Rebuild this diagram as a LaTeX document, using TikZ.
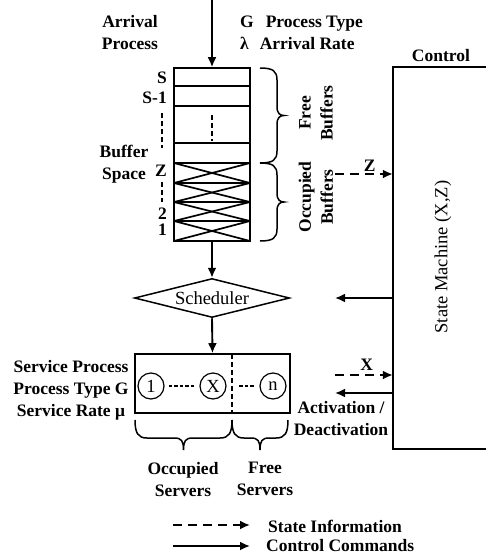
\documentclass[tikz,border=0pt]{standalone}
\usepackage{fontspec}
\setmainfont{Liberation Serif}
\usetikzlibrary{arrows.meta,shapes.geometric}
\newcommand\VBrace[3]{% x0, ytop, ybottom ; tip to the right
  \pgfmathsetmacro\ym{(#2+#3)/2}
  \draw[brc] (#1,#2) .. controls (#1+13,#2) and (#1+17,#2+3) .. (#1+17,#2+12)
    -- (#1+17,\ym-9) .. controls (#1+17,\ym-2) and (#1+20,\ym) .. (#1+24,\ym)
    .. controls (#1+20,\ym) and (#1+17,\ym+2) .. (#1+17,\ym+9)
    -- (#1+17,#3-12) .. controls (#1+17,#3-3) and (#1+13,#3) .. (#1,#3);}
\newcommand\HBrace[3]{% xleft, xright, y0 ; tip downwards
  \pgfmathsetmacro\xm{(#1+#2)/2}
  \draw[brc] (#1,#3) .. controls (#1,#3+13) and (#1+3,#3+18) .. (#1+12,#3+18)
    -- (\xm-9,#3+18) .. controls (\xm-2,#3+18) and (\xm,#3+21) .. (\xm,#3+30)
    .. controls (\xm,#3+21) and (\xm+2,#3+18) .. (\xm+9,#3+18)
    -- (#2-12,#3+18) .. controls (#2-3,#3+18) and (#2,#3+13) .. (#2,#3);}
\begin{document}
\begin{tikzpicture}[x=1pt,y=-1pt,
  lbl/.style={font=\fontsize{17.5}{22}\selectfont\bfseries, inner sep=0},
  reg/.style={font=\fontsize{18.5}{22}\selectfont, inner sep=0},
  box/.style={draw, line width=1.6pt},
  brc/.style={line width=1.5pt},
  arr/.style={line width=1.9pt,-{Latex[length=10pt,width=9pt]}},
  darr/.style={arr, dash pattern=on 9pt off 6pt},
  vdash/.style={line width=1.5pt, dash pattern=on 5pt off 3pt},
  dots/.style={line width=1.2pt, dash pattern=on 3.5pt off 2pt},
  srvc/.style={draw, circle, minimum size=26pt, inner sep=0, line width=1.2pt,
    font=\fontsize{18.5}{20}\selectfont},
]
\useasboundingbox (0,0) rectangle (486,554);

% ---------- buffer ----------
\node[box, minimum width=76pt, minimum height=173pt, inner sep=0] (buf) at (212,154.5) {};
\foreach \yy in {86,106,143,163,183,202,221}
  \draw[line width=1.6pt] (174,\yy) -- (250,\yy);
\foreach \a/\b in {163/183,183/202,202/221,221/241}{
  \draw[line width=1.7pt] (174,\a) -- (250,\b);
  \draw[line width=1.7pt] (174,\b) -- (250,\a);}
\draw[vdash] (212,115) -- (212,141);

\coordinate (arrtop) at (212,0);
\draw[arr] (arrtop) -- (buf.north);

\node[lbl, align=center, anchor=north] (arrp) at (130,15.5) {Arrival\\Process};
\node[lbl, align=left, anchor=north west] (gtype) at (240,15.5)
  {G\hspace{12pt}Process Type\\λ\hspace{11pt}Arrival Rate};

\node[lbl, anchor=base east] (ls) at (167,83) {S};
\node[lbl, anchor=base east] (ls1) at (167,103) {S-1};
\draw[vdash] (162,113) -- (162,148);
\node[lbl, align=center, anchor=north] (bsp) at (124,145) {Buffer\\Space};
\node[lbl, anchor=base east] (lz) at (167,176) {Z};
\draw[vdash] (162,182) -- (162,202);
\node[lbl, anchor=base east] (l2) at (167,219) {2};
\node[lbl, anchor=base east] (l1) at (167,235) {1};

\VBrace{260}{68}{163}
\VBrace{260}{163}{241}
\node[lbl, align=center, rotate=90] (fb) at (316,113) {Free\\Buffers};
\node[lbl, align=center, rotate=90] (ob) at (316,197) {Occupied\\Buffers};

% ---------- control ----------
\node[minimum width=93pt, minimum height=382pt, inner sep=0] (ctrl) at (439.5,258) {};
\draw[line width=1.6pt] (ctrl.north east) -- (ctrl.north west) -- (ctrl.south west) -- (ctrl.south east);
\node[lbl, anchor=base] (ctl) at (441,61) {Control};
\node[reg, rotate=90] (sm) at (443,257) {State Machine (X,Z)};

\coordinate (zs) at (335,174);
\draw[darr] (zs) -- (zs -| ctrl.west) node[lbl, pos=0.6, anchor=base, yshift=3pt] (zl) {Z};

% ---------- scheduler ----------
\node[draw, diamond, aspect=4, minimum width=155pt, minimum height=39pt, line width=1.5pt, reg] (sched) at (212,298) {Scheduler};
\draw[arr] (buf.south) -- (sched.north);
\coordinate (sc) at (335,298);
\draw[arr] (sc -| ctrl.west) -- (sc);

% ---------- servers ----------
\node[box, minimum width=155pt, minimum height=59pt, inner sep=0] (srv) at (212.5,383.5) {};
\draw[arr] (sched.south) -- (srv.north);
\draw[vdash] (232,354) -- (232,413);
\node[srvc] (c1) at (151,386) {1};
\node[srvc] (cx) at (213,386) {X};
\node[srvc] (cn) at (273,386) {n};
\coordinate (dv) at (232,386);
\draw[dots, shorten <=4pt, shorten >=5pt] (c1) -- (cx);
\draw[dots, shorten <=7pt, shorten >=5pt] (dv) -- (cn);

\node[lbl, align=center, anchor=north] (sp) at (71,360)
  {Service Process\\Process Type G\\Service Rate μ};

\coordinate (xs) at (335,375);
\draw[darr] (xs) -- (xs -| ctrl.west) node[lbl, pos=0.55, anchor=base, yshift=5pt] (xl) {X};
\coordinate (as) at (335,393);
\draw[arr] (as -| ctrl.west) -- (as);
\node[lbl, align=center, anchor=north] (act) at (341,401) {Activation /\\Deactivation};

\HBrace{135}{232}{420}
\HBrace{232}{288}{420}
\node[lbl, align=center, anchor=north] (os) at (183,462) {Occupied\\Servers};
\node[lbl, align=center, anchor=north] (fs) at (265,462) {Free\\Servers};

% ---------- legend ----------
\coordinate (l1a) at (173,525);
\coordinate (l1b) at (250,525);
\coordinate (l2a) at (173,546);
\coordinate (l2b) at (250,546);
\draw[darr] (l1a) -- (l1b);
\draw[arr] (l2a) -- (l2b);
\node[lbl, anchor=base west] (si) at (268,532) {State Information};
\node[lbl, anchor=base west] (cc) at (266,551) {Control Commands};
\end{tikzpicture}
\end{document}
